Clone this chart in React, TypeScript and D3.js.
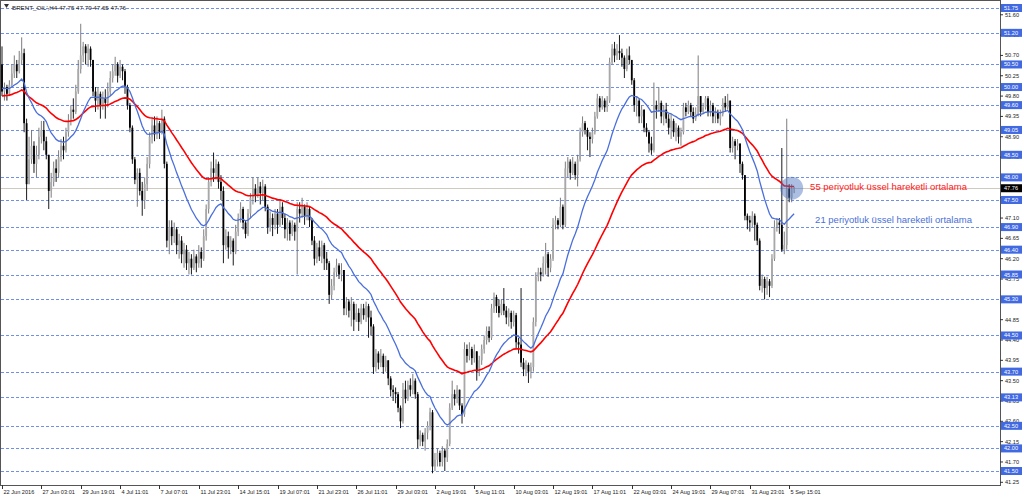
import * as d3 from "d3";

const WIDTH = 1024;
const HEIGHT = 499;
const PLOT_RIGHT = 1000;
const PLOT_BOTTOM = 485;

const TITLE = "BRENT_OIL',H4 47.75 47.79 47.65 47.76";
const FIRST_OPEN = 50.5;

// H4 closes, 22 Jun -> 5 Sep 2016
const closes = [
  49.9, 50.0, 49.85, 50.05, 50.3, 50.5, 50.35, 50.6, 50.75, 49.2, // 0
  47.85, 48.4, 48.7, 48.3, 48.5, 48.9, 49.05, 48.8, 48.5, 47.7, // 10
  47.9, 48.2, 48.1, 48.45, 48.7, 48.6, 49.0, 49.25, 49.5, 49.45, // 20
  49.9, 50.4, 50.7, 50.9, 50.75, 50.85, 50.6, 49.9, 49.7, 49.85, // 30
  49.6, 49.75, 49.65, 49.9, 50.2, 50.35, 50.5, 50.25, 50.45, 50.35, // 40
  50.0, 49.6, 49.1, 48.4, 47.95, 48.1, 47.7, 47.5, 47.85, 48.3, // 50
  48.9, 49.15, 48.95, 49.2, 49.0, 49.3, 48.3, 46.6, 46.9, 46.7, // 60
  46.85, 46.5, 46.6, 46.3, 46.4, 46.1, 46.2, 46.0, 46.25, 46.1, // 70
  46.35, 46.2, 46.7, 47.3, 47.9, 48.2, 48.1, 48.3, 47.9, 47.7, // 80
  46.5, 46.7, 46.45, 46.6, 46.35, 46.8, 47.1, 47.3, 47.0, 46.75, // 90
  47.2, 47.55, 47.75, 47.6, 47.8, 47.65, 47.8, 47.35, 46.9, 47.1, // 100
  46.95, 47.2, 46.95, 47.35, 47.1, 46.85, 47.0, 46.75, 46.95, 46.8, // 110
  47.3, 47.2, 47.35, 47.15, 47.3, 47.05, 46.6, 46.2, 46.45, 46.25, // 120
  46.5, 46.2, 46.1, 45.4, 45.6, 45.9, 46.05, 45.85, 45.95, 45.1, // 130
  45.25, 45.05, 45.2, 44.85, 45.0, 44.8, 45.1, 44.95, 45.15, 44.9, // 140
  44.7, 43.8, 44.1, 43.9, 44.05, 43.8, 43.95, 43.55, 43.3, 43.25, // 150
  43.2, 42.9, 42.6, 43.3, 43.1, 43.4, 43.3, 43.5, 43.2, 42.2, // 160
  42.3, 42.15, 42.35, 42.5, 42.8, 41.6, 41.75, 41.9, 41.7, 41.95, // 170
  41.8, 42.1, 42.9, 43.2, 43.1, 43.3, 42.95, 42.75, 44.2, 44.05, // 180
  44.2, 44.0, 44.15, 43.7, 43.95, 44.2, 44.4, 44.6, 44.45, 45.1, // 190
  45.35, 45.15, 45.0, 45.2, 45.05, 44.9, 45.0, 44.8, 44.95, 44.35, // 200
  44.3, 43.9, 43.75, 43.85, 43.7, 43.8, 44.8, 45.8, 45.9, 45.85, // 210
  46.1, 46.3, 46.0, 46.2, 46.95, 47.05, 46.95, 47.35, 46.95, 48.2, // 220
  48.35, 48.1, 48.3, 48.05, 48.4, 49.0, 49.2, 49.05, 48.9, 48.85, // 230
  49.0, 49.35, 49.75, 49.55, 49.7, 49.55, 49.7, 50.55, 50.85, 50.7, // 240
  50.8, 50.75, 50.65, 50.4, 50.7, 50.6, 50.15, 49.6, 49.7, 49.35, // 250
  49.5, 49.1, 49.0, 48.75, 48.6, 49.6, 49.5, 49.65, 49.35, 49.5, // 260
  49.3, 49.1, 49.25, 49.0, 49.1, 48.9, 49.0, 49.55, 49.45, 49.6, // 270
  49.45, 49.3, 49.4, 49.8, 49.45, 49.55, 49.75, 49.45, 49.6, 49.35, // 280
  49.45, 49.3, 49.4, 49.65, 49.55, 49.7, 48.65, 48.8, 48.7, 48.75, // 290
  48.3, 48.05, 47.15, 47.05, 47.0, 47.15, 46.95, 46.6, 45.6, 45.75, // 300
  45.55, 45.7, 45.6, 46.2, 46.9, 47.0, 46.95, 46.4, 46.5, 47.75, // 310
  47.55, 47.75, 47.76, // 320
];

const highs = [
  50.9, 50.1, 50.05, 50.15, 50.5, 50.7, 50.6, 50.8, 51.1, 50.85,
  49.3, 48.9, 49.05, 48.8, 48.7, 49.1, 49.25, 49.25, 48.9, 48.5,
  48.1, 48.35, 48.4, 48.6, 48.85, 48.9, 49.1, 49.4, 49.6, 49.75,
  50.05, 50.6, 51.4, 51.0, 50.95, 50.95, 50.9, 50.6, 50.0, 50.0,
  49.9, 49.9, 49.95, 50.1, 50.35, 50.5, 50.67, 50.55, 50.6, 50.5,
  50.4, 50.05, 49.65, 49.15, 48.45, 48.2, 48.2, 47.9, 48.0, 48.45,
  49.0, 49.3, 49.35, 49.35, 49.25, 49.5, 49.35, 48.35, 47.05, 47.05,
  47.0, 46.9, 46.75, 46.7, 46.55, 46.5, 46.35, 46.3, 46.4, 46.3,
  46.5, 46.45, 46.85, 47.4, 48.0, 48.35, 48.55, 48.4, 48.35, 48.05,
  47.8, 46.85, 46.8, 46.7, 46.65, 46.95, 47.2, 47.45, 47.35, 47.05,
  47.3, 47.65, 48.0, 47.85, 48.0, 47.9, 47.95, 47.85, 47.4, 47.25,
  47.2, 47.3, 47.3, 47.5, 47.45, 47.2, 47.1, 47.05, 47.05, 47.0,
  47.45, 47.45, 47.55, 47.4, 47.45, 47.35, 47.1, 46.7, 46.55, 46.6,
  46.6, 46.55, 46.35, 46.15, 45.75, 46.0, 46.2, 46.1, 46.1, 45.95,
  45.35, 45.3, 45.35, 45.25, 45.2, 45.1, 45.2, 45.2, 45.25, 45.2,
  45.05, 44.75, 44.2, 44.15, 44.2, 44.1, 44.05, 43.95, 43.6, 43.4,
  43.35, 43.25, 42.95, 43.45, 43.5, 43.5, 43.55, 43.65, 43.55, 43.25,
  42.4, 42.35, 42.45, 42.6, 42.9, 42.85, 41.9, 42.0, 41.95, 42.05,
  42.0, 42.2, 43.0, 43.5, 43.3, 43.4, 43.3, 43.0, 44.35, 44.3,
  44.35, 44.25, 44.3, 44.15, 44.05, 44.3, 44.5, 44.7, 44.7, 45.2,
  45.45, 45.4, 45.3, 45.3, 45.55, 45.15, 45.1, 45.05, 45.05, 45.0,
  44.45, 45.55, 44.0, 43.95, 43.9, 43.9, 44.9, 45.9, 46.0, 46.0,
  46.25, 46.55, 46.35, 46.3, 47.1, 47.15, 47.1, 47.55, 47.4, 48.35,
  48.45, 48.4, 48.45, 48.35, 48.5, 49.1, 49.35, 49.25, 49.1, 49.0,
  49.1, 49.45, 49.85, 49.8, 49.8, 49.75, 49.8, 50.65, 50.95, 51.0,
  50.95, 51.15, 50.85, 50.7, 50.85, 50.9, 50.45, 50.2, 49.8, 49.75,
  49.6, 49.5, 49.2, 49.05, 48.9, 50.1, 49.7, 50.0, 49.7, 49.6,
  49.65, 49.4, 49.4, 49.3, 49.2, 49.15, 49.1, 49.65, 49.65, 49.7,
  49.65, 49.55, 49.55, 50.7, 49.8, 49.65, 49.8, 49.8, 49.7, 49.65,
  49.55, 49.5, 49.5, 49.75, 49.8, 49.85, 49.7, 48.9, 48.85, 48.85,
  48.75, 48.35, 48.05, 47.2, 47.15, 47.25, 47.2, 47.0, 46.65, 45.85,
  45.8, 45.8, 45.75, 46.3, 47.05, 47.1, 47.1, 48.65, 46.8, 49.3,
  47.85, 47.85, 47.79,
];

const lows = [
  49.8, 49.7, 49.7, 49.8, 50.0, 50.2, 50.2, 50.3, 50.5, 49.0,
  47.5, 48.0, 48.3, 48.1, 48.0, 48.4, 48.75, 48.6, 48.4, 47.3,
  47.55, 47.8, 47.9, 48.0, 48.35, 48.4, 48.55, 48.9, 49.15, 49.3,
  49.4, 49.85, 50.3, 50.55, 50.5, 50.45, 50.45, 49.8, 49.45, 49.5,
  49.3, 49.5, 49.3, 49.55, 49.8, 50.1, 50.25, 50.1, 50.2, 50.15,
  49.85, 49.5, 49.0, 48.3, 47.85, 47.35, 47.6, 47.15, 47.3, 47.7,
  48.2, 48.75, 48.8, 48.85, 48.85, 48.95, 48.2, 46.45, 46.3, 46.5,
  46.55, 46.3, 46.2, 46.1, 46.0, 45.95, 45.85, 45.85, 45.95, 45.9,
  46.0, 46.0, 46.15, 46.6, 47.2, 47.8, 47.9, 47.95, 47.75, 47.5,
  46.1, 46.4, 46.2, 46.3, 46.05, 46.3, 46.7, 47.0, 46.85, 46.65,
  46.7, 47.1, 47.4, 47.45, 47.55, 47.4, 47.5, 47.25, 46.75, 46.8,
  46.7, 46.85, 46.75, 46.9, 46.95, 46.65, 46.6, 46.6, 46.7, 46.6,
  45.85, 47.0, 47.1, 46.95, 47.05, 46.9, 46.5, 46.05, 46.1, 46.15,
  46.1, 45.95, 45.95, 45.2, 45.3, 45.5, 45.8, 45.75, 45.7, 44.95,
  44.95, 44.9, 44.7, 44.6, 44.8, 44.6, 44.75, 44.85, 44.8, 44.45,
  44.5, 43.65, 43.7, 43.75, 43.8, 43.65, 43.7, 43.4, 43.15, 43.05,
  43.0, 42.8, 42.45, 42.55, 43.0, 43.05, 43.15, 43.2, 43.1, 42.0,
  42.05, 42.05, 41.95, 42.2, 42.4, 41.45, 41.5, 41.6, 41.6, 41.6,
  41.5, 41.7, 42.05, 42.85, 42.95, 43.0, 42.85, 42.55, 42.7, 43.9,
  43.95, 43.85, 43.9, 43.5, 43.6, 43.85, 44.1, 44.3, 44.35, 44.4,
  45.0, 45.0, 44.9, 44.95, 44.95, 44.75, 44.7, 44.65, 44.7, 44.2,
  44.1, 43.8, 43.6, 43.6, 43.45, 43.55, 43.7, 44.7, 45.7, 45.7,
  45.8, 45.85, 45.8, 45.9, 46.15, 46.85, 46.85, 46.9, 46.85, 46.9,
  48.0, 47.95, 48.05, 47.95, 47.8, 48.35, 48.9, 48.95, 48.6, 48.45,
  48.75, 48.95, 49.3, 49.45, 49.5, 49.45, 49.45, 49.65, 50.5, 50.55,
  50.6, 50.6, 50.45, 50.2, 50.35, 50.5, 50.05, 49.45, 49.35, 49.2,
  49.2, 49.0, 48.9, 48.55, 48.5, 48.55, 49.3, 49.45, 49.2, 49.15,
  49.2, 48.95, 48.85, 48.9, 48.8, 48.75, 48.7, 48.95, 49.35, 49.4,
  49.35, 49.2, 49.25, 49.35, 49.35, 49.4, 49.5, 49.35, 49.35, 49.2,
  49.2, 49.2, 49.15, 49.35, 49.45, 49.5, 48.55, 48.55, 48.4, 48.6,
  48.1, 47.95, 47.05, 46.85, 46.8, 46.9, 46.6, 46.5, 45.5, 45.45,
  45.3, 45.4, 45.35, 45.55, 46.15, 46.8, 46.75, 46.35, 46.3, 46.4,
  47.45, 47.45, 47.65,
];

// one label every 16 bars
const TIME_STEP = 16;
const timeLabels = [
  "22 Jun 2016", "27 Jun 03:01", "29 Jun 19:01", "4 Jul 11:01", "7 Jul 07:01",
  "11 Jul 23:01", "14 Jul 15:01", "19 Jul 07:01", "21 Jul 23:01", "26 Jul 11:01",
  "29 Jul 03:01", "2 Aug 19:01", "5 Aug 11:01", "10 Aug 03:01", "12 Aug 19:01",
  "17 Aug 11:01", "22 Aug 03:01", "24 Aug 19:01", "29 Aug 07:01", "31 Aug 23:01",
  "5 Sep 15:01",
];

const priceTicks = [
  41.25, 41.7, 42.15, 42.6, 43.05, 43.5, 43.95, 44.4, 44.85, 45.3, 45.75, 46.2,
  46.65, 47.1, 47.55, 48.0, 48.45, 48.9, 49.35, 49.8, 50.25, 50.7, 51.15, 51.6,
];

// support / resistance levels (blue dashed lines + blue labels)
const levels = [
  51.75, 51.2, 50.5, 50.0, 49.6, 49.05, 48.5, 48.0, 47.5, 46.9, 46.4, 45.85,
  45.3, 44.5, 43.7, 43.13, 42.5, 42.0, 41.5,
];

const CURRENT_PRICE = 47.76;

const EMA_FAST = 21;
const EMA_SLOW = 55;
const EMA_FAST_START = 49.98;
const EMA_SLOW_START = 49.8;

const LABEL_SLOW = "55 periyotluk üssel hareketli ortalama";
const LABEL_FAST = "21 periyotluk üssel hareketli ortalama";

const COLOR_LEVEL = "#6f8fea";
const COLOR_LABEL_BG = "#4169e1";
const COLOR_EMA_SLOW = "#ff0000";
const COLOR_EMA_FAST = "#4a6fdc";
const COLOR_BULL = "#a8a8a8";
const COLOR_BULL_EDGE = "#6e6e6e";
const COLOR_BEAR = "#000000";
const FONT = "'Liberation Sans', Arial, sans-serif";

function ema(values: number[], period: number, start: number) {
  const k = 2 / (period + 1);
  const out: number[] = [];
  let prev = start;
  values.forEach((v) => {
    prev = prev + k * (v - prev);
    out.push(prev);
  });
  return out;
}

export default function App() {
  const n = closes.length;
  const candles = closes.map((c, i) => {
    const o = i === 0 ? FIRST_OPEN : closes[i - 1];
    return {
      i,
      o,
      c,
      h: Math.max(highs[i], o, c),
      l: Math.min(lows[i], o, c),
    };
  });

  const x = d3.scaleLinear().domain([0, 320]).range([2, 789.2]);
  const y = d3.scaleLinear().domain([41.25, 51.75]).range([482.3, 8]);

  const emaFast = ema(closes, EMA_FAST, EMA_FAST_START);
  const emaSlow = ema(closes, EMA_SLOW, EMA_SLOW_START);
  const line = d3
    .line<number>()
    .x((_, i) => x(i))
    .y((d) => y(d));

  const bodyW = 1.8;
  const lastX = x(n - 1);
  const yCur = y(CURRENT_PRICE);
  // plain ticks that sit exactly on a level are fully covered by its label
  const plainTicks = priceTicks.filter((p) => !levels.some((l) => Math.abs(l - p) < 0.001));

  return (
    <svg
      width={WIDTH}
      height={HEIGHT}
      style={{ position: "absolute", left: 0, top: 0, background: "#fff" }}
      fontFamily={FONT}
    >
      <rect x={0} y={0} width={WIDTH} height={HEIGHT} fill="#fff" />

      {/* level lines */}
      {levels.map((p) => (
        <line
          key={"lv" + p}
          x1={1}
          x2={PLOT_RIGHT}
          y1={Math.round(y(p)) + 0.5}
          y2={Math.round(y(p)) + 0.5}
          stroke={COLOR_LEVEL}
          strokeWidth={1}
          strokeDasharray="3,2"
        />
      ))}

      {/* current price line */}
      <line
        x1={1}
        x2={PLOT_RIGHT}
        y1={Math.round(yCur) + 0.5}
        y2={Math.round(yCur) + 0.5}
        stroke="#cfcac0"
        strokeWidth={1}
      />

      {/* candles */}
      {candles.map((d) => {
        const bull = d.c >= d.o;
        const cx = x(d.i);
        const top = y(Math.max(d.o, d.c));
        const bot = y(Math.min(d.o, d.c));
        return (
          <g key={"c" + d.i}>
            <line
              x1={cx}
              x2={cx}
              y1={y(d.h)}
              y2={y(d.l)}
              stroke={bull ? COLOR_BULL_EDGE : COLOR_BEAR}
              strokeWidth={0.9}
            />
            <rect
              x={cx - bodyW / 2}
              y={top}
              width={bodyW}
              height={Math.max(0.8, bot - top)}
              fill={bull ? COLOR_BULL : COLOR_BEAR}
            />
          </g>
        );
      })}

      {/* moving averages */}
      <path d={line(emaSlow) ?? ""} fill="none" stroke={COLOR_EMA_SLOW} strokeWidth={1.6} />
      <path d={line(emaFast) ?? ""} fill="none" stroke={COLOR_EMA_FAST} strokeWidth={1.3} />

      {/* highlight + notes */}
      <circle cx={x(n - 2)} cy={yCur} r={11.5} fill="rgba(70,110,190,0.45)" />
      <text x={lastX + 16} y={y(emaSlow[n - 1]) + 3} fontSize={9.5} fill="#ff2020">
        {LABEL_SLOW}
      </text>
      <text x={lastX + 21} y={y(emaFast[n - 1]) + 9} fontSize={9.5} fill="#4a70d8">
        {LABEL_FAST}
      </text>

      {/* frame */}
      <rect
        x={0.5}
        y={0.5}
        width={PLOT_RIGHT}
        height={PLOT_BOTTOM}
        fill="none"
        stroke="#555"
        strokeWidth={1}
      />

      {/* title */}
      <path d="M4,4 L9,4 L6.5,8 Z" fill="#333" />
      <text x={12} y={9.5} fontSize={6.2} fill="#222">
        {TITLE}
      </text>

      {/* price axis */}
      {plainTicks.map((p) => (
        <g key={"pt" + p}>
          <line x1={PLOT_RIGHT} x2={PLOT_RIGHT + 3} y1={y(p)} y2={y(p)} stroke="#333" />
          <text x={PLOT_RIGHT + 5} y={y(p) + 2} fontSize={5.6} fill="#222">
            {p.toFixed(2)}
          </text>
        </g>
      ))}
      {levels.map((p) => (
        <g key={"pl" + p}>
          <rect x={PLOT_RIGHT + 1} y={y(p) - 4} width={21} height={8} fill={COLOR_LABEL_BG} />
          <text x={PLOT_RIGHT + 4} y={y(p) + 2} fontSize={5.6} fill="#fff">
            {p.toFixed(2)}
          </text>
        </g>
      ))}
      <rect x={PLOT_RIGHT + 1} y={yCur - 4} width={21} height={8} fill="#000" />
      <text x={PLOT_RIGHT + 4} y={yCur + 2} fontSize={5.6} fill="#fff">
        {CURRENT_PRICE.toFixed(2)}
      </text>

      {/* time axis */}
      {timeLabels.map((t, k) => {
        const tx = Math.round(x(k * TIME_STEP)) + 0.5;
        return (
          <g key={"t" + k}>
            <line x1={tx} x2={tx} y1={PLOT_BOTTOM} y2={PLOT_BOTTOM + 4} stroke="#333" />
            <text x={tx + 1} y={PLOT_BOTTOM + 9} fontSize={5.6} fill="#222">
              {t}
            </text>
          </g>
        );
      })}
    </svg>
  );
}
